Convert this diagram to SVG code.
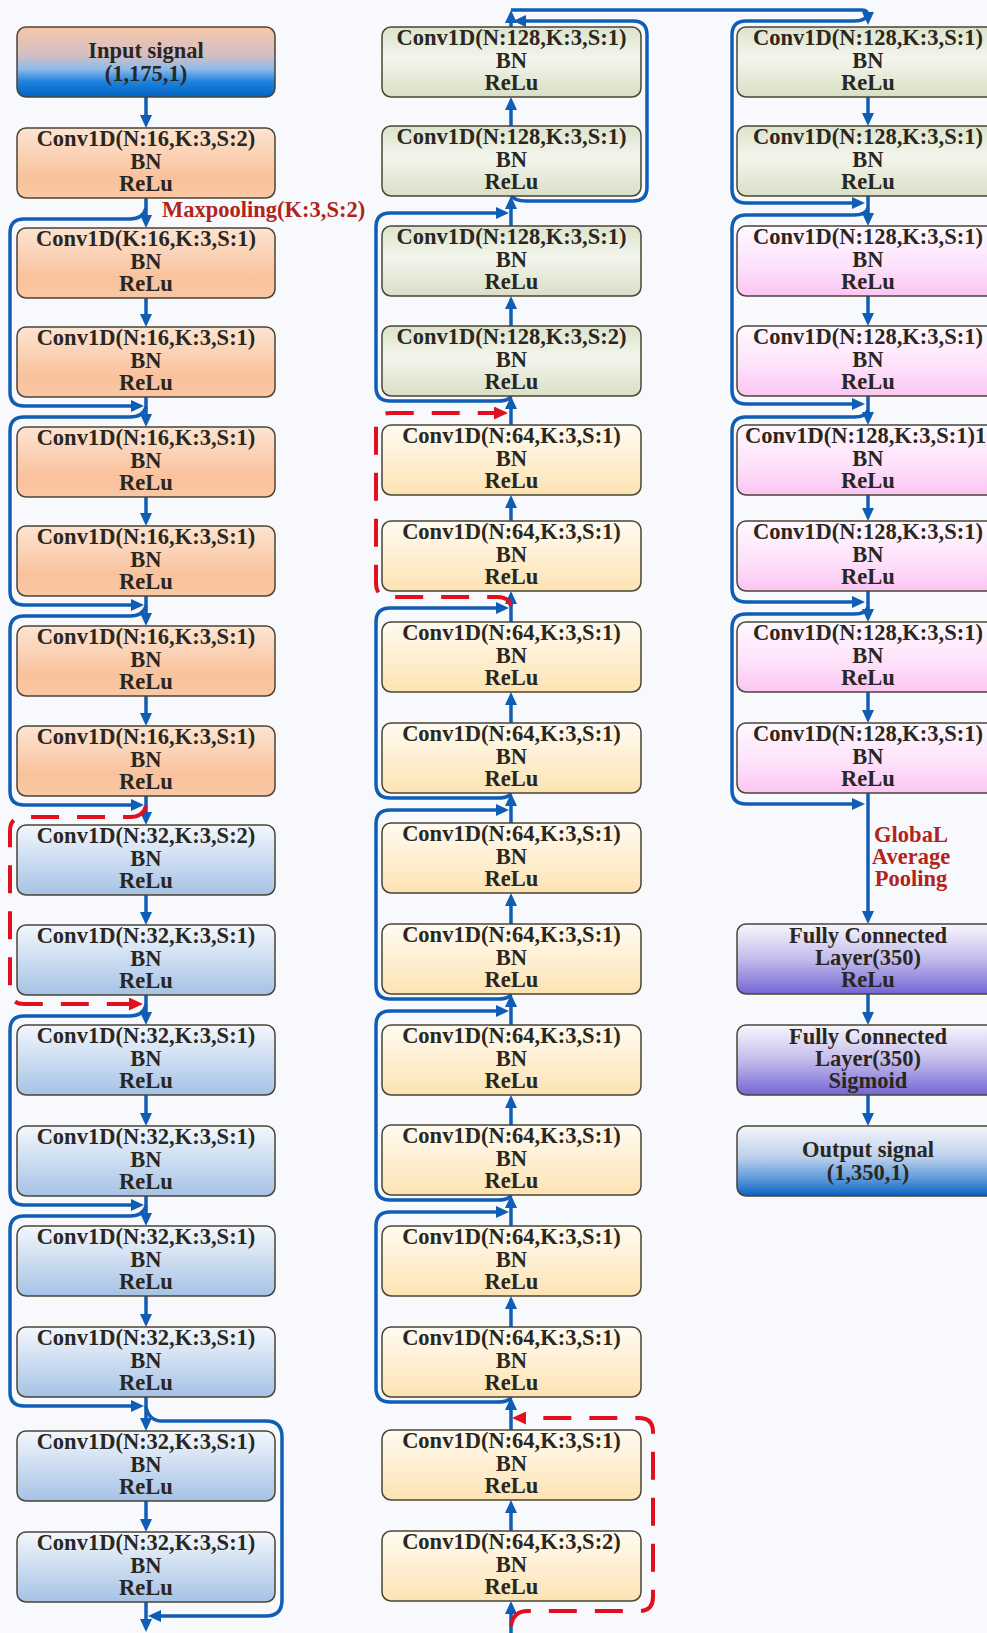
<svg xmlns="http://www.w3.org/2000/svg" width="987" height="1633" viewBox="0 0 987 1633">
<defs>
<style>
.box{stroke:#4a4434;stroke-width:1.5}
.t{font-family:"Liberation Serif","Times New Roman",serif;font-weight:bold;font-size:22.5px;fill:#2a2620;text-anchor:middle}
.lab{font-family:"Liberation Serif","Times New Roman",serif;font-weight:bold;font-size:22.5px;fill:#b0241a}
.a{fill:none;stroke:#0f5db5;stroke-width:3.5;marker-end:url(#ab)}
.r{fill:none;stroke:#e0101e;stroke-width:4;stroke-dasharray:28 18;marker-end:url(#ar)}
</style>
<marker id="ab" viewBox="0 0 13 12" refX="6" refY="6" markerWidth="13" markerHeight="12" orient="auto" markerUnits="userSpaceOnUse"><path d="M0,0 L13,6 L0,12 Z" fill="#0f5db5"/></marker>
<marker id="ar" viewBox="0 0 14 13" refX="7" refY="6.5" markerWidth="14" markerHeight="13" orient="auto" markerUnits="userSpaceOnUse"><path d="M0,0 L14,6.5 L0,13 Z" fill="#e0101e"/></marker>
<linearGradient id="gIn" x1="0" y1="0" x2="0" y2="1"><stop offset="0" stop-color="#f6c7a7"/><stop offset="0.4" stop-color="#d4bfc4"/><stop offset="0.6" stop-color="#8dbbe9"/><stop offset="0.78" stop-color="#1f82df"/><stop offset="1" stop-color="#0062c2"/></linearGradient>
<linearGradient id="gOr" x1="0" y1="0" x2="0" y2="1"><stop offset="0" stop-color="#fde4d2"/><stop offset="0.7" stop-color="#f9c29d"/><stop offset="1" stop-color="#fac7a4"/></linearGradient>
<linearGradient id="gBl" x1="0" y1="0" x2="0" y2="1"><stop offset="0" stop-color="#f3f7fd"/><stop offset="1" stop-color="#a5c2e5"/></linearGradient>
<linearGradient id="gGr" x1="0" y1="0" x2="0" y2="1"><stop offset="0" stop-color="#dde3cc"/><stop offset="0.45" stop-color="#f3f5ec"/><stop offset="1" stop-color="#d9dfc6"/></linearGradient>
<linearGradient id="gYe" x1="0" y1="0" x2="0" y2="1"><stop offset="0" stop-color="#fffbf1"/><stop offset="1" stop-color="#fde3b3"/></linearGradient>
<linearGradient id="gPk" x1="0" y1="0" x2="0" y2="1"><stop offset="0" stop-color="#fff9ff"/><stop offset="0.6" stop-color="#fde0fa"/><stop offset="1" stop-color="#fbc5f3"/></linearGradient>
<linearGradient id="gFc" x1="0" y1="0" x2="0" y2="1"><stop offset="0" stop-color="#f8f6fc"/><stop offset="0.5" stop-color="#c3bcec"/><stop offset="1" stop-color="#7466d4"/></linearGradient>
<linearGradient id="gOut" x1="0" y1="0" x2="0" y2="1"><stop offset="0" stop-color="#f5f5fb"/><stop offset="0.45" stop-color="#bcd0ec"/><stop offset="0.75" stop-color="#5f9adb"/><stop offset="1" stop-color="#0a62c0"/></linearGradient>
</defs>
<rect x="0" y="0" width="987" height="1633" fill="#f8f9fd"/>

<g id="connectors">
<!-- column 1 main -->
<path class="a" d="M146 97 V121"/>
<path class="a" d="M146 198 V221"/>
<path class="a" d="M146 298 V320"/>
<path class="a" d="M146 397 V420"/>
<path class="a" d="M146 497 V519"/>
<path class="a" d="M146 596 V619"/>
<path class="a" d="M146 696 V719"/>
<path class="a" d="M146 796 V818"/>
<path class="a" d="M146 895 V918"/>
<path class="a" d="M146 995 V1018"/>
<path class="a" d="M146 1095 V1119"/>
<path class="a" d="M146 1196 V1219"/>
<path class="a" d="M146 1296 V1320"/>
<path class="a" d="M146 1397 V1424"/>
<path class="a" d="M146 1501 V1525"/>
<path class="a" d="M146 1602 V1625"/>
<!-- column 1 skips -->
<path class="a" d="M146 208 Q143 219 130 219 L24 219 Q10 219 10 233 L10 392 Q10 406 24 406 L137 406"/>
<path class="a" d="M146 407 Q143 417 130 417 L24 417 Q10 417 10 431 L10 591 Q10 605 24 605 L137 605"/>
<path class="a" d="M146 606 Q143 616 130 616 L24 616 Q10 616 10 630 L10 791 Q10 805 24 805 L137 805"/>
<path class="r" d="M146 806 Q143 817 130 817 L24 817 Q10 817 10 831 L10 990 Q10 1004 24 1004 L136 1004"/>
<path class="a" d="M146 1005 Q143 1016 130 1016 L24 1016 Q10 1016 10 1030 L10 1191 Q10 1205 24 1205 L137 1205"/>
<path class="a" d="M146 1206 Q143 1216 130 1216 L24 1216 Q10 1216 10 1230 L10 1392 Q10 1406 24 1406 L137 1406"/>
<path class="a" d="M146 1407 Q149 1421 162 1421 L266 1421 Q282 1421 282 1437 L282 1600 Q282 1616 266 1616 L155 1616"/>
<!-- column 2 main (upward) -->
<path class="a" d="M511 126 V104"/>
<path class="a" d="M511 226 V203"/>
<path class="a" d="M511 326 V303"/>
<path class="a" d="M511 425 V403"/>
<path class="a" d="M511 521 V502"/>
<path class="a" d="M511 622 V598"/>
<path class="a" d="M511 723 V699"/>
<path class="a" d="M511 823 V800"/>
<path class="a" d="M511 924 V900"/>
<path class="a" d="M511 1025 V1001"/>
<path class="a" d="M511 1125 V1102"/>
<path class="a" d="M511 1226 V1202"/>
<path class="a" d="M511 1327 V1303"/>
<path class="a" d="M511 1430 V1404"/>
<path class="a" d="M511 1531 V1507"/>
<path class="a" d="M511 1633 V1608"/>
<path class="a" d="M511 27 V17"/>
<!-- column 2 skips -->
<path class="r" d="M511 1626 Q513 1611 528 1611 L639 1611 Q653 1611 653 1597 L653 1432 Q653 1418 639 1418 L519 1418"/>
<path class="a" d="M511 1397 Q509 1402 497 1402 L390 1402 Q376 1402 376 1388 L376 1226 Q376 1212 390 1212 L502 1212"/>
<path class="a" d="M511 1195 Q509 1200 497 1200 L390 1200 Q376 1200 376 1186 L376 1025 Q376 1011 390 1011 L502 1011"/>
<path class="a" d="M511 994 Q509 999 497 999 L390 999 Q376 999 376 985 L376 824 Q376 810 390 810 L502 810"/>
<path class="a" d="M511 793 Q509 798 497 798 L390 798 Q376 798 376 784 L376 622 Q376 608 390 608 L502 608"/>
<path class="r" d="M511 606 Q509 597 497 597 L390 597 Q376 597 376 583 L376 427 Q376 413 390 413 L501 413"/>
<path class="a" d="M511 396 Q509 401 497 401 L390 401 Q376 401 376 387 L376 227 Q376 213 390 213 L502 213"/>
<path class="a" d="M511 195 Q514 201 526 201 L633 201 Q647 201 647 187 L647 35 Q647 21 633 21 L520 21"/>
<!-- top link to column 3 -->
<path class="a" d="M511 10 L862 10 Q868 10 868 16 L868 18"/>
<!-- column 3 main -->
<path class="a" d="M868 97 V119"/>
<path class="a" d="M868 196 V219"/>
<path class="a" d="M868 296 V319"/>
<path class="a" d="M868 396 V418"/>
<path class="a" d="M868 495 V514"/>
<path class="a" d="M868 591 V615"/>
<path class="a" d="M868 692 V716"/>
<path class="a" d="M868 793 V917"/>
<path class="a" d="M868 994 V1018"/>
<path class="a" d="M868 1095 V1119"/>
<!-- column 3 skips -->
<path class="a" d="M868 14 Q866 21 854 21 L746 21 Q732 21 732 35 L732 189 Q732 203 746 203 L858 203"/>
<path class="a" d="M868 208 Q866 215 854 215 L746 215 Q732 215 732 229 L732 390 Q732 404 746 404 L858 404"/>
<path class="a" d="M868 410 Q866 417 854 417 L746 417 Q732 417 732 431 L732 588 Q732 602 746 602 L858 602"/>
<path class="a" d="M868 607 Q866 614 854 614 L746 614 Q732 614 732 628 L732 790 Q732 804 746 804 L858 804"/>
<text class="lab" x="162" y="217">Maxpooling(K:3,S:2)</text>
<text class="lab" text-anchor="middle"><tspan x="911" y="842">GlobaL</tspan><tspan x="911" y="864">Average</tspan><tspan x="911" y="886">Pooling</tspan></text>
</g>

<!-- column 1 -->
<g id="input"><rect class="box" x="17" y="27" width="258" height="70" rx="9" fill="url(#gIn)"/><text class="t"><tspan x="146" y="58">Input signal</tspan><tspan x="146" y="81">(1,175,1)</tspan></text></g>
<g id="c1-1"><rect class="box" x="17" y="128" width="258" height="70" rx="9" fill="url(#gOr)"/><text class="t"><tspan x="146" y="146">Conv1D(N:16,K:3,S:2)</tspan><tspan x="146" y="168.5">BN</tspan><tspan x="146" y="191">ReLu</tspan></text></g>
<g id="c1-2"><rect class="box" x="17" y="228" width="258" height="70" rx="9" fill="url(#gOr)"/><text class="t"><tspan x="146" y="246">Conv1D(K:16,K:3,S:1)</tspan><tspan x="146" y="268.5">BN</tspan><tspan x="146" y="291">ReLu</tspan></text></g>
<g id="c1-3"><rect class="box" x="17" y="327" width="258" height="70" rx="9" fill="url(#gOr)"/><text class="t"><tspan x="146" y="345">Conv1D(N:16,K:3,S:1)</tspan><tspan x="146" y="367.5">BN</tspan><tspan x="146" y="390">ReLu</tspan></text></g>
<g id="c1-4"><rect class="box" x="17" y="427" width="258" height="70" rx="9" fill="url(#gOr)"/><text class="t"><tspan x="146" y="445">Conv1D(N:16,K:3,S:1)</tspan><tspan x="146" y="467.5">BN</tspan><tspan x="146" y="490">ReLu</tspan></text></g>
<g id="c1-5"><rect class="box" x="17" y="526" width="258" height="70" rx="9" fill="url(#gOr)"/><text class="t"><tspan x="146" y="544">Conv1D(N:16,K:3,S:1)</tspan><tspan x="146" y="566.5">BN</tspan><tspan x="146" y="589">ReLu</tspan></text></g>
<g id="c1-6"><rect class="box" x="17" y="626" width="258" height="70" rx="9" fill="url(#gOr)"/><text class="t"><tspan x="146" y="644">Conv1D(N:16,K:3,S:1)</tspan><tspan x="146" y="666.5">BN</tspan><tspan x="146" y="689">ReLu</tspan></text></g>
<g id="c1-7"><rect class="box" x="17" y="726" width="258" height="70" rx="9" fill="url(#gOr)"/><text class="t"><tspan x="146" y="744">Conv1D(N:16,K:3,S:1)</tspan><tspan x="146" y="766.5">BN</tspan><tspan x="146" y="789">ReLu</tspan></text></g>
<g id="c1-8"><rect class="box" x="17" y="825" width="258" height="70" rx="9" fill="url(#gBl)"/><text class="t"><tspan x="146" y="843">Conv1D(N:32,K:3,S:2)</tspan><tspan x="146" y="865.5">BN</tspan><tspan x="146" y="888">ReLu</tspan></text></g>
<g id="c1-9"><rect class="box" x="17" y="925" width="258" height="70" rx="9" fill="url(#gBl)"/><text class="t"><tspan x="146" y="943">Conv1D(N:32,K:3,S:1)</tspan><tspan x="146" y="965.5">BN</tspan><tspan x="146" y="988">ReLu</tspan></text></g>
<g id="c1-10"><rect class="box" x="17" y="1025" width="258" height="70" rx="9" fill="url(#gBl)"/><text class="t"><tspan x="146" y="1043">Conv1D(N:32,K:3,S:1)</tspan><tspan x="146" y="1065.5">BN</tspan><tspan x="146" y="1088">ReLu</tspan></text></g>
<g id="c1-11"><rect class="box" x="17" y="1126" width="258" height="70" rx="9" fill="url(#gBl)"/><text class="t"><tspan x="146" y="1144">Conv1D(N:32,K:3,S:1)</tspan><tspan x="146" y="1166.5">BN</tspan><tspan x="146" y="1189">ReLu</tspan></text></g>
<g id="c1-12"><rect class="box" x="17" y="1226" width="258" height="70" rx="9" fill="url(#gBl)"/><text class="t"><tspan x="146" y="1244">Conv1D(N:32,K:3,S:1)</tspan><tspan x="146" y="1266.5">BN</tspan><tspan x="146" y="1289">ReLu</tspan></text></g>
<g id="c1-13"><rect class="box" x="17" y="1327" width="258" height="70" rx="9" fill="url(#gBl)"/><text class="t"><tspan x="146" y="1345">Conv1D(N:32,K:3,S:1)</tspan><tspan x="146" y="1367.5">BN</tspan><tspan x="146" y="1390">ReLu</tspan></text></g>
<g id="c1-14"><rect class="box" x="17" y="1431" width="258" height="70" rx="9" fill="url(#gBl)"/><text class="t"><tspan x="146" y="1449">Conv1D(N:32,K:3,S:1)</tspan><tspan x="146" y="1471.5">BN</tspan><tspan x="146" y="1494">ReLu</tspan></text></g>
<g id="c1-15"><rect class="box" x="17" y="1532" width="258" height="70" rx="9" fill="url(#gBl)"/><text class="t"><tspan x="146" y="1550">Conv1D(N:32,K:3,S:1)</tspan><tspan x="146" y="1572.5">BN</tspan><tspan x="146" y="1595">ReLu</tspan></text></g>

<!-- column 2 -->
<g id="c2-0"><rect class="box" x="382" y="27" width="259" height="70" rx="9" fill="url(#gGr)"/><text class="t"><tspan x="511.5" y="45">Conv1D(N:128,K:3,S:1)</tspan><tspan x="511.5" y="67.5">BN</tspan><tspan x="511.5" y="90">ReLu</tspan></text></g>
<g id="c2-1"><rect class="box" x="382" y="126" width="259" height="70" rx="9" fill="url(#gGr)"/><text class="t"><tspan x="511.5" y="144">Conv1D(N:128,K:3,S:1)</tspan><tspan x="511.5" y="166.5">BN</tspan><tspan x="511.5" y="189">ReLu</tspan></text></g>
<g id="c2-2"><rect class="box" x="382" y="226" width="259" height="70" rx="9" fill="url(#gGr)"/><text class="t"><tspan x="511.5" y="244">Conv1D(N:128,K:3,S:1)</tspan><tspan x="511.5" y="266.5">BN</tspan><tspan x="511.5" y="289">ReLu</tspan></text></g>
<g id="c2-3"><rect class="box" x="382" y="326" width="259" height="70" rx="9" fill="url(#gGr)"/><text class="t"><tspan x="511.5" y="344">Conv1D(N:128,K:3,S:2)</tspan><tspan x="511.5" y="366.5">BN</tspan><tspan x="511.5" y="389">ReLu</tspan></text></g>
<g id="c2-4"><rect class="box" x="382" y="425" width="259" height="70" rx="9" fill="url(#gYe)"/><text class="t"><tspan x="511.5" y="443">Conv1D(N:64,K:3,S:1)</tspan><tspan x="511.5" y="465.5">BN</tspan><tspan x="511.5" y="488">ReLu</tspan></text></g>
<g id="c2-5"><rect class="box" x="382" y="521" width="259" height="70" rx="9" fill="url(#gYe)"/><text class="t"><tspan x="511.5" y="539">Conv1D(N:64,K:3,S:1)</tspan><tspan x="511.5" y="561.5">BN</tspan><tspan x="511.5" y="584">ReLu</tspan></text></g>
<g id="c2-6"><rect class="box" x="382" y="622" width="259" height="70" rx="9" fill="url(#gYe)"/><text class="t"><tspan x="511.5" y="640">Conv1D(N:64,K:3,S:1)</tspan><tspan x="511.5" y="662.5">BN</tspan><tspan x="511.5" y="685">ReLu</tspan></text></g>
<g id="c2-7"><rect class="box" x="382" y="723" width="259" height="70" rx="9" fill="url(#gYe)"/><text class="t"><tspan x="511.5" y="741">Conv1D(N:64,K:3,S:1)</tspan><tspan x="511.5" y="763.5">BN</tspan><tspan x="511.5" y="786">ReLu</tspan></text></g>
<g id="c2-8"><rect class="box" x="382" y="823" width="259" height="70" rx="9" fill="url(#gYe)"/><text class="t"><tspan x="511.5" y="841">Conv1D(N:64,K:3,S:1)</tspan><tspan x="511.5" y="863.5">BN</tspan><tspan x="511.5" y="886">ReLu</tspan></text></g>
<g id="c2-9"><rect class="box" x="382" y="924" width="259" height="70" rx="9" fill="url(#gYe)"/><text class="t"><tspan x="511.5" y="942">Conv1D(N:64,K:3,S:1)</tspan><tspan x="511.5" y="964.5">BN</tspan><tspan x="511.5" y="987">ReLu</tspan></text></g>
<g id="c2-10"><rect class="box" x="382" y="1025" width="259" height="70" rx="9" fill="url(#gYe)"/><text class="t"><tspan x="511.5" y="1043">Conv1D(N:64,K:3,S:1)</tspan><tspan x="511.5" y="1065.5">BN</tspan><tspan x="511.5" y="1088">ReLu</tspan></text></g>
<g id="c2-11"><rect class="box" x="382" y="1125" width="259" height="70" rx="9" fill="url(#gYe)"/><text class="t"><tspan x="511.5" y="1143">Conv1D(N:64,K:3,S:1)</tspan><tspan x="511.5" y="1165.5">BN</tspan><tspan x="511.5" y="1188">ReLu</tspan></text></g>
<g id="c2-12"><rect class="box" x="382" y="1226" width="259" height="70" rx="9" fill="url(#gYe)"/><text class="t"><tspan x="511.5" y="1244">Conv1D(N:64,K:3,S:1)</tspan><tspan x="511.5" y="1266.5">BN</tspan><tspan x="511.5" y="1289">ReLu</tspan></text></g>
<g id="c2-13"><rect class="box" x="382" y="1327" width="259" height="70" rx="9" fill="url(#gYe)"/><text class="t"><tspan x="511.5" y="1345">Conv1D(N:64,K:3,S:1)</tspan><tspan x="511.5" y="1367.5">BN</tspan><tspan x="511.5" y="1390">ReLu</tspan></text></g>
<g id="c2-14"><rect class="box" x="382" y="1430" width="259" height="70" rx="9" fill="url(#gYe)"/><text class="t"><tspan x="511.5" y="1448">Conv1D(N:64,K:3,S:1)</tspan><tspan x="511.5" y="1470.5">BN</tspan><tspan x="511.5" y="1493">ReLu</tspan></text></g>
<g id="c2-15"><rect class="box" x="382" y="1531" width="259" height="70" rx="9" fill="url(#gYe)"/><text class="t"><tspan x="511.5" y="1549">Conv1D(N:64,K:3,S:2)</tspan><tspan x="511.5" y="1571.5">BN</tspan><tspan x="511.5" y="1594">ReLu</tspan></text></g>

<!-- column 3 -->
<g id="c3-0"><rect class="box" x="737" y="27" width="262" height="70" rx="9" fill="url(#gGr)"/><text class="t"><tspan x="868" y="45">Conv1D(N:128,K:3,S:1)</tspan><tspan x="868" y="67.5">BN</tspan><tspan x="868" y="90">ReLu</tspan></text></g>
<g id="c3-1"><rect class="box" x="737" y="126" width="262" height="70" rx="9" fill="url(#gGr)"/><text class="t"><tspan x="868" y="144">Conv1D(N:128,K:3,S:1)</tspan><tspan x="868" y="166.5">BN</tspan><tspan x="868" y="189">ReLu</tspan></text></g>
<g id="c3-2"><rect class="box" x="737" y="226" width="262" height="70" rx="9" fill="url(#gPk)"/><text class="t"><tspan x="868" y="244">Conv1D(N:128,K:3,S:1)</tspan><tspan x="868" y="266.5">BN</tspan><tspan x="868" y="289">ReLu</tspan></text></g>
<g id="c3-3"><rect class="box" x="737" y="326" width="262" height="70" rx="9" fill="url(#gPk)"/><text class="t"><tspan x="868" y="344">Conv1D(N:128,K:3,S:1)</tspan><tspan x="868" y="366.5">BN</tspan><tspan x="868" y="389">ReLu</tspan></text></g>
<g id="c3-4"><rect class="box" x="737" y="425" width="262" height="70" rx="9" fill="url(#gPk)"/><text class="t"><tspan x="745" y="443" text-anchor="start">Conv1D(N:128,K:3,S:1)1</tspan><tspan x="868" y="465.5">BN</tspan><tspan x="868" y="488">ReLu</tspan></text></g>
<g id="c3-5"><rect class="box" x="737" y="521" width="262" height="70" rx="9" fill="url(#gPk)"/><text class="t"><tspan x="868" y="539">Conv1D(N:128,K:3,S:1)</tspan><tspan x="868" y="561.5">BN</tspan><tspan x="868" y="584">ReLu</tspan></text></g>
<g id="c3-6"><rect class="box" x="737" y="622" width="262" height="70" rx="9" fill="url(#gPk)"/><text class="t"><tspan x="868" y="640">Conv1D(N:128,K:3,S:1)</tspan><tspan x="868" y="662.5">BN</tspan><tspan x="868" y="685">ReLu</tspan></text></g>
<g id="c3-7"><rect class="box" x="737" y="723" width="262" height="70" rx="9" fill="url(#gPk)"/><text class="t"><tspan x="868" y="741">Conv1D(N:128,K:3,S:1)</tspan><tspan x="868" y="763.5">BN</tspan><tspan x="868" y="786">ReLu</tspan></text></g>
<g id="fc1"><rect class="box" x="737" y="924" width="262" height="70" rx="9" fill="url(#gFc)"/><text class="t"><tspan x="868" y="942.5">Fully Connected</tspan><tspan x="868" y="965">Layer(350)</tspan><tspan x="868" y="987">ReLu</tspan></text></g>
<g id="fc2"><rect class="box" x="737" y="1025" width="262" height="70" rx="9" fill="url(#gFc)"/><text class="t"><tspan x="868" y="1043.5">Fully Connected</tspan><tspan x="868" y="1066">Layer(350)</tspan><tspan x="868" y="1088">Sigmoid</tspan></text></g>
<g id="output"><rect class="box" x="737" y="1126" width="262" height="70" rx="9" fill="url(#gOut)"/><text class="t"><tspan x="868" y="1157">Output signal</tspan><tspan x="868" y="1180">(1,350,1)</tspan></text></g>
</svg>
